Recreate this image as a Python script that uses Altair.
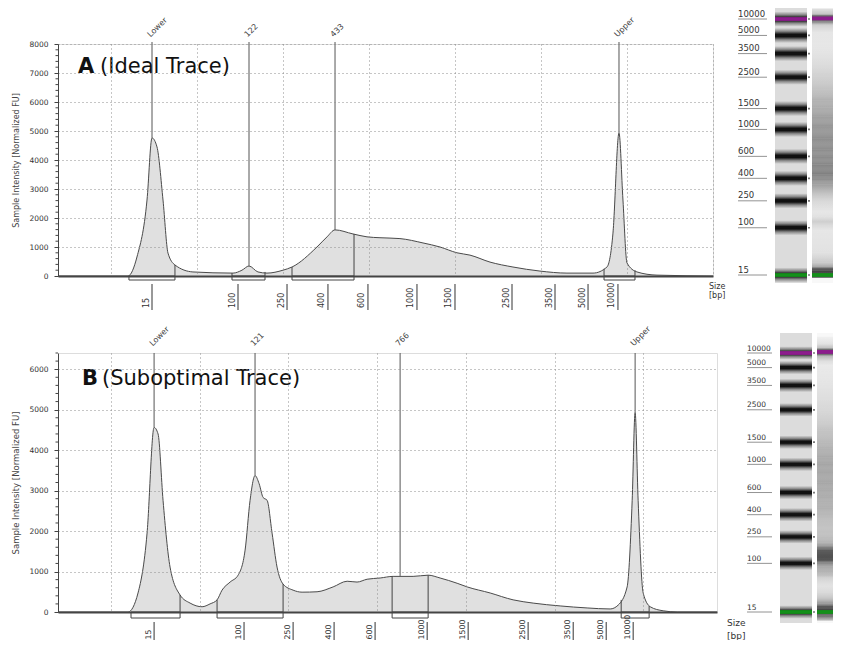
import altair as alt
import pandas as pd

FONT = "DejaVu Sans"

# ---------------- Panel A (ideal trace): migration time [s] -> fluorescence [FU]
a_time = [3.84, 8.72, 11.98, 13.02, 14.19, 14.77, 15.35, 16.05, 16.63, 17.44,
          19.53, 24.19, 25.23, 26.05, 27.09, 28.14, 30.0, 31.05, 33.95, 35.12,
          36.05, 38.14, 39.77, 41.28, 43.60, 46.28, 48.26, 50.23, 51.74, 54.07,
          56.74, 59.88, 63.02, 66.05, 67.67, 68.37, 69.07, 69.53, 70.0, 71.16,
          73.49, 80.0]
a_fu = [0, 0, 0, 655, 2620, 4760, 4450, 2620, 790, 380,
        140, 100, 200, 345, 140, 100, 200, 310, 1000, 1350,
        1590, 1450, 1350, 1320, 1290, 1140, 1000, 800, 720, 480,
        310, 170, 100, 100, 310, 1480, 4930, 2620, 450, 140,
        30, 0]

# ---------------- Panel B (suboptimal trace)
b_time = [4.02, 8.76, 11.92, 13.04, 14.06, 14.85, 15.30, 15.86, 16.65, 17.78,
          18.91, 20.26, 21.16, 21.95, 22.51, 23.42, 24.32, 25.11, 25.67, 26.23,
          26.69, 27.14, 27.59, 28.15, 28.71, 29.39, 30.52, 31.53, 33.22, 35.03,
          36.61, 37.73, 38.86, 40.33, 41.79, 44.05, 45.74, 47.09, 49.01, 50.14,
          52.73, 55.32, 57.58, 60.62, 63.66, 66.26, 67.16, 68.17, 68.74, 69.07,
          69.41, 69.98, 70.77, 72.23, 73.81, 78.30]
b_fu = [0, 0, 0, 470, 1950, 4560, 4400, 2760, 1110, 420,
        220, 130, 200, 300, 540, 740, 910, 1530, 2760, 3370,
        3170, 2830, 2760, 1950, 1110, 690, 540, 490, 500, 620,
        760, 740, 810, 840, 880, 880, 910, 840, 710, 620,
        470, 300, 220, 150, 100, 75, 170, 620, 2760, 4930,
        2760, 470, 130, 30, 0, 0]

# ---------------- Ladder (size in bp and migration time in each run)
ladder_bp = [15, 100, 250, 400, 600, 1000, 1500, 2500, 3500, 5000, 10000]
a_ladder_time = [14.77, 24.77, 30.47, 35.23, 39.88, 45.58, 50.0, 56.63, 61.63, 65.47, 68.95]
b_ladder_time = [14.85, 24.99, 30.52, 35.14, 39.76, 45.63, 50.25, 57.01, 62.09, 65.81, 68.85]

# ---------------- Called peaks
a_peak_label = ["Lower", "122", "433", "Upper"]
a_peak_time = [14.77, 26.05, 36.05, 69.07]
a_peak_fu = [4760, 345, 1590, 4930]
b_peak_label = ["Lower", "121", "766", "Upper"]
b_peak_time = [14.85, 26.23, 42.58, 69.07]
b_peak_fu = [4560, 3370, 890, 4930]

# ---------------- Integration regions (start/end time and trace value there)
a_reg_start = [12.09, 24.07, 31.05, 67.33]
a_reg_end = [17.44, 27.91, 38.26, 70.93]
a_reg_start_fu = [0, 100, 310, 250]
a_reg_end_fu = [380, 140, 1450, 200]
b_reg_start = [12.25, 21.95, 41.68, 67.50]
b_reg_end = [17.78, 29.39, 45.74, 70.65]
b_reg_start_fu = [0, 300, 880, 300]
b_reg_end_fu = [420, 690, 910, 150]

GREEN = "#14901a"
PURPLE = "#8c1c8c"


def vgrad(stops):
    return alt.LinearGradient(
        gradient="linear", x1=0, x2=0, y1=0, y2=1,
        stops=[alt.GradientStop(color=col, offset=off) for off, col in stops])


band_grad = vgrad([(0, "#dcdcdc"), (0.22, "#8a8a8a"), (0.42, "#111111"),
                   (0.58, "#111111"), (0.78, "#8a8a8a"), (1, "#dcdcdc")])
fade_down = vgrad([(0, "rgba(0,0,0,1)"), (1, "rgba(0,0,0,0)")])   # dark at top edge
fade_up = vgrad([(0, "rgba(0,0,0,0)"), (1, "rgba(0,0,0,1)")])     # dark at bottom edge
OPACITY_SCALE = alt.Scale(type="pow", exponent=0.7, domain=[0, 3500],
                          range=[0, 0.88], clamp=True)


def panel(time, fu, ladder_time, peak_label, peak_time, peak_fu,
          reg_start, reg_end, reg_start_fu, reg_end_fu, c):
    W, H = c["width"], c["height"]
    trace = pd.DataFrame({"t": time, "fu": fu})
    seg = trace.copy()
    seg["t2"] = seg["t"].shift(-1)
    seg["fu2"] = seg["fu"].shift(-1)
    seg = seg.dropna()
    seg = seg[(seg["t2"] <= c["gtop"]) & (seg["t"] >= c["gbot"])]
    ladder = pd.DataFrame({"t": ladder_time, "bp": [str(b) for b in ladder_bp]})
    peaks = pd.DataFrame({"t": peak_time, "fu": peak_fu, "label": peak_label})
    regions = pd.DataFrame({"start": reg_start, "end": reg_end})
    edges = pd.DataFrame({"t": reg_start + reg_end, "fu": reg_start_fu + reg_end_fu})
    ladder_mark = pd.DataFrame({"t": [ladder_time[0], ladder_time[-1]], "col": [GREEN, PURPLE]})
    sample_mark = pd.DataFrame({"t": [peak_time[0], peak_time[-1]], "col": [GREEN, PURPLE]})
    minor = pd.DataFrame({"v": [v for v in range(0, c["ydom"][1] + 1, 200) if v % 1000]})
    one = pd.DataFrame({"k": [0]})

    xs = alt.Scale(domain=c["xdom"], nice=False, zero=False)
    ys = alt.Scale(domain=c["ydom"], nice=False)
    xaxis = alt.Axis(values=c["xgrid"], grid=True, gridDash=[1, 3], gridColor="#8c8c8c",
                     ticks=False, labels=False, domain=True, domainColor="#444",
                     domainWidth=2, title=None, zindex=1)
    yaxis = alt.Axis(values=c["yticks"], format="d", grid=True, gridDash=[1, 3],
                     gridColor="#8c8c8c", tickSize=4, tickColor="#444",
                     labelFontSize=7.5, labelColor="#333", labelFont=FONT, labelPadding=6,
                     domainColor="#444", title="Sample Intensity [Normalized FU]",
                     titleFont=FONT, titleFontSize=c["ytitle_fs"], titleFontWeight="normal",
                     titleColor="#444", titlePadding=8, zindex=1)

    def X(f):
        return alt.X(f, type="quantitative", scale=xs, axis=xaxis)

    def Y(f):
        return alt.Y(f, type="quantitative", scale=ys, axis=yaxis)

    area = alt.Chart(trace).mark_area(interpolate="monotone", fill="#e0e0e0").encode(
        x=X("t"), y=Y("fu"))
    line = alt.Chart(trace).mark_line(interpolate="monotone", color="#4a4a4a",
                                      strokeWidth=1).encode(x=X("t"), y=Y("fu"))
    minor_ticks = alt.Chart(minor).mark_rule(color="#444").encode(
        y=Y("v"), x=alt.value(-2.5), x2=alt.value(0))
    boxes = alt.Chart(regions).mark_rect(fillOpacity=0, stroke="#444", strokeWidth=1).encode(
        x=X("start"), x2="end", y=alt.value(H), y2=alt.value(H + c["depth"]))
    edge_rules = alt.Chart(edges).mark_rule(color="#444").encode(
        x=X("t"), y=Y("fu"), y2=alt.datum(0))
    peak_rules = alt.Chart(peaks).mark_rule(color="#555").encode(
        x=X("t"), y=Y("fu"), y2=alt.value(c["peak_top"]))
    peak_text = alt.Chart(peaks).mark_text(angle=315, align="left", baseline="bottom",
                                           fontSize=8, color="#444", font=FONT).encode(
        x=X("t"), y=alt.value(c["plabel_y"]), text="label:N")
    tick_lines = alt.Chart(ladder).mark_rule(color="#333").encode(
        x=X("t"), y=alt.value(H + c["xtick"][0]), y2=alt.value(H + c["xtick"][1]))
    tick_text = alt.Chart(ladder).mark_text(angle=270, align="left", baseline="bottom",
                                            fontSize=c["xlab_fs"], color="#333", font=FONT,
                                            dy=-1.5).encode(
        x=X("t"), y=alt.value(H + c["xlab_y"]), text="bp:N")
    size_text = alt.Chart(one).mark_text(text=["Size", "[bp]"], align="left", baseline="top",
                                         fontSize=c["size_fs"], lineHeight=c["size_lh"],
                                         color="#333", font=FONT).encode(
        x=alt.value(c["size_x"]), y=alt.value(H + c["size_dy"]))
    t_bold = alt.Chart(one).mark_text(text=c["letter"], align="left", baseline="alphabetic",
                                      fontSize=21, fontWeight="bold", color="#111",
                                      font=FONT).encode(
        x=alt.value(c["title_x"][0]), y=alt.value(c["title_y"]))
    t_rest = alt.Chart(one).mark_text(text=c["subtitle"], align="left", baseline="alphabetic",
                                      fontSize=21, color="#111", font=FONT).encode(
        x=alt.value(c["title_x"][1]), y=alt.value(c["title_y"]))

    trace_layer = alt.layer(area, line, minor_ticks, edge_rules, boxes, peak_rules,
                            peak_text, tick_lines, tick_text, size_text, t_bold, t_rest)

    # ---------------- gel image
    gs = alt.Scale(domain=c["gdom"], nice=False, zero=False)

    def G(f):
        return alt.Y(f, type="quantitative", scale=gs, axis=None)

    l0, l1 = c["ladder_lane"]
    s0, s1 = c["sample_lane"]
    gy0, gy1 = c["gel_y"]
    hw = c["band_hw"]
    ladder_bg = alt.Chart(one).mark_rect(fill="#dcdcdc").encode(
        x=alt.value(l0), x2=alt.value(l1), y=alt.value(gy0), y2=alt.value(gy1))
    sample_bg = alt.Chart(one).mark_rect(fill="#f8f8f8").encode(
        x=alt.value(s0), x2=alt.value(s1), y=alt.value(gy0), y2=alt.value(gy1))
    bands = alt.Chart(ladder).transform_calculate(
        b1=f"datum.t - {hw}", b2=f"datum.t + {hw}").mark_rect(fill=band_grad).encode(
        x=alt.value(l0), x2=alt.value(l1), y=G("b1"), y2="b2:Q")
    # sample lane: each trace segment shaded by its two end values (blended edges)
    smear_top = alt.Chart(seg).mark_rect(fill=fade_down).encode(
        x=alt.value(s0), x2=alt.value(s1), y=G("t"), y2="t2:Q",
        opacity=alt.Opacity("fu2:Q", legend=None, scale=OPACITY_SCALE))
    smear_bot = alt.Chart(seg).mark_rect(fill=fade_up).encode(
        x=alt.value(s0), x2=alt.value(s1), y=G("t"), y2="t2:Q",
        opacity=alt.Opacity("fu:Q", legend=None, scale=OPACITY_SCALE))
    lmark = alt.Chart(ladder_mark).transform_calculate(
        b1="datum.t - 0.4", b2="datum.t + 0.4").mark_rect().encode(
        x=alt.value(l0), x2=alt.value(l1), y=G("b1"), y2="b2:Q",
        color=alt.Color("col:N", scale=None))
    smark = alt.Chart(sample_mark).transform_calculate(
        b1="datum.t - 0.4", b2="datum.t + 0.4").mark_rect().encode(
        x=alt.value(s0), x2=alt.value(s1), y=G("b1"), y2="b2:Q",
        color=alt.Color("col:N", scale=None))
    dots = alt.Chart(ladder).mark_point(shape="square", size=3, filled=True,
                                        color="#222").encode(
        x=alt.value(l1 + 2), y=G("t"))
    glx0, glx1 = c["glabel_x"]
    glabels = alt.Chart(ladder).mark_text(align="left", baseline="bottom",
                                          fontSize=c["glab_fs"], color="#333", font=FONT,
                                          dy=-0.5).encode(
        x=alt.value(glx0), y=G("t"), text="bp:N")
    gunder = alt.Chart(ladder).mark_rule(color="#777", strokeWidth=0.8).encode(
        x=alt.value(glx0), x2=alt.value(glx1), y=G("t"))
    gel_layer = alt.layer(ladder_bg, sample_bg, bands, smear_top, smear_bot, lmark, smark,
                          dots, glabels, gunder)

    return alt.layer(trace_layer, gel_layer).resolve_scale(y="independent").properties(
        width=W, height=H)


cfg_a = dict(width=655, height=232, xdom=[3.84, 80], ydom=[0, 8000],
             yticks=list(range(0, 8001, 1000)), xgrid=list(range(10, 81, 10)),
             ytitle_fs=8, peak_top=-2, plabel_y=-5, depth=4,
             xtick=(8, 34), xlab_y=32, xlab_fs=8, size_x=651, size_dy=7,
             size_fs=8, size_lh=9, letter="A", subtitle="(Ideal Trace)",
             title_x=(20, 42), title_y=29,
             gdom=[14.56, 63.66], gtop=71.5, gbot=13.08,
             ladder_lane=(717, 749), sample_lane=(754, 782), gel_y=(-36, 239),
             band_hw=1.6, glabel_x=(680, 709), glab_fs=8.5)
cfg_b = dict(width=659, height=259, xdom=[4.02, 78.3], ydom=[0, 6400],
             yticks=list(range(0, 6001, 1000)), xgrid=list(range(10, 71, 10)),
             ytitle_fs=8.5, peak_top=0, plabel_y=-5, depth=6,
             xtick=(10, 28), xlab_y=27.5, xlab_fs=7.8, size_x=669, size_dy=7,
             size_fs=9, size_lh=13, letter="B", subtitle="(Suboptimal Trace)",
             title_x=(24, 44), title_y=32,
             gdom=[14.85, 68.85], gtop=73.0, gbot=12.56,
             ladder_lane=(722, 754), sample_lane=(759, 782), gel_y=(-20, 270),
             band_hw=1.4, glabel_x=(689, 714), glab_fs=7.5)

top = panel(a_time, a_fu, a_ladder_time, a_peak_label, a_peak_time, a_peak_fu,
            a_reg_start, a_reg_end, a_reg_start_fu, a_reg_end_fu, cfg_a)
bottom = panel(b_time, b_fu, b_ladder_time, b_peak_label, b_peak_time, b_peak_fu,
               b_reg_start, b_reg_end, b_reg_start_fu, b_reg_end_fu, cfg_b)

# fixed canvas (825 x 632); the plot origin sits 50 px right / 36 px down
chart = alt.vconcat(top, bottom, spacing=77, bounds="flush").properties(
    autosize=alt.AutoSizeParams(type="none"),
    padding={"left": 50, "top": 36, "right": 775, "bottom": 596}
).configure_view(stroke=None).configure(font=FONT)

chart.save("out.html", embed_options={"renderer": "svg", "actions": False})
